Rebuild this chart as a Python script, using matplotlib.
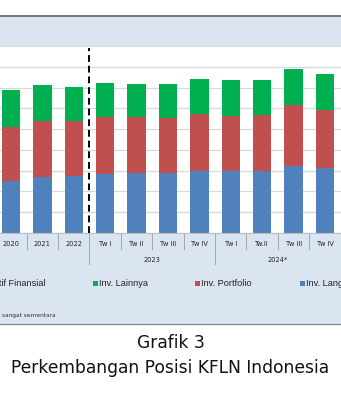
import matplotlib
matplotlib.use("Agg")
import matplotlib.pyplot as plt
from matplotlib.patches import Rectangle
import numpy as np

periods = ["2020", "2021", "2022", "Tw I", "Tw II", "Tw III", "Tw IV",
           "Tw I", "Tw.II", "Tw III", "Tw IV"]
year_groups = [("2023", 3, 6), ("2024*", 7, 10)]
inv_langsung = [251, 271, 274, 282, 288, 288, 298, 296, 300, 322, 315]
inv_portfolio = [259, 267, 263, 274, 270, 265, 276, 269, 269, 293, 278]
inv_lainnya = [176, 172, 165, 167, 161, 165, 169, 171, 168, 173, 174]

BLUE = "#4f81bd"
RED = "#c0504d"
GREEN = "#00b050"
BAND = "#dbe5f1"

W, H = 341, 400


def fx(px):
    return px / W


def fy(py):
    return 1 - py / H


fig = plt.figure(figsize=(W / 100, H / 100), dpi=100)
fig.patch.set_facecolor("white")

# light blue chart area with its border lines
fig.add_artist(Rectangle((0, fy(324)), 1, fy(15) - fy(324), transform=fig.transFigure,
                         facecolor=BAND, edgecolor="none", zorder=-2))
fig.add_artist(plt.Line2D([0, 1], [fy(15.5), fy(15.5)], transform=fig.transFigure,
                          color="#6e6e6e", lw=1.3, zorder=-1))
fig.add_artist(plt.Line2D([0, 1], [fy(323.5), fy(323.5)], transform=fig.transFigure,
                          color="#8c8c8c", lw=1.0, zorder=-1))

plot_h = 233 - 46
ax = fig.add_axes([0, fy(233), 1, plot_h / H])
ax.set_facecolor("white")

x = np.arange(len(periods))
lang = np.array(inv_langsung)
port = np.array(inv_portfolio)
lain = np.array(inv_lainnya)
bw = 0.59
ax.bar(x, lang, bw, color=BLUE, zorder=2)
ax.bar(x, port, bw, bottom=lang, color=RED, zorder=2)
ax.bar(x, lain, bw, bottom=lang + port, color=GREEN, zorder=2)

ax.set_xlim(-0.35, 10.51)
ax.set_ylim(0, 900)
ax.set_yticks(range(0, 901, 100))
ax.yaxis.grid(True, color="#d9d9d9", lw=0.9)
ax.set_axisbelow(True)
ax.tick_params(left=False, labelleft=False, bottom=False, labelbottom=False)
for s in ["left", "right", "top"]:
    ax.spines[s].set_visible(False)
ax.spines["bottom"].set_color("#bfbfbf")
ax.spines["bottom"].set_linewidth(0.8)

# dashed separator between annual and quarterly data
ax.axvline(2.5, ymin=0, ymax=0.99, color="black", lw=1.4, ls=(0, (3.5, 2)), zorder=3)

# category axis: labels and separators below the plot
tr = ax.get_xaxis_transform()
px = 1 / plot_h
for i, lab in enumerate(periods):
    ax.text(i, -11 * px, lab, transform=tr, ha="center", va="center",
            fontsize=4.8, family="DejaVu Sans", color="#222222")
long_seps = {2.5, 6.5, 10.5}
for b in np.arange(-0.5, len(periods)) + 0.0:
    depth = 31 if b in long_seps else 16
    ax.plot([b, b], [0, -depth * px], transform=tr, clip_on=False,
            color="#a6a6a6", lw=0.7)
for name, i0, i1 in year_groups:
    ax.text((i0 + i1) / 2, -27 * px, name, transform=tr, ha="center", va="center",
            fontsize=4.8, family="DejaVu Sans", color="#222222")

# legend row
legend_items = [("Inv. Lainnya", GREEN, 95), ("Inv. Portfolio", RED, 197),
                ("Inv. Langsung", BLUE, 302)]
ly = 283
fig.text(fx(46), fy(ly), "Derivatif Finansial", ha="right", va="center",
         fontsize=6.6, family="Liberation Sans", color="#222222")
for name, col, mx in legend_items:
    fig.add_artist(Rectangle((fx(mx - 2.5), fy(ly + 2.5)), fx(5), 5 / H,
                             transform=fig.transFigure, facecolor=col, edgecolor="none"))
    fig.text(fx(mx + 4), fy(ly), name, ha="left", va="center",
             fontsize=6.6, family="Liberation Sans", color="#222222")

fig.text(fx(56), fy(316), "*Data sangat sementara", ha="right", va="center",
         fontsize=4.2, family="DejaVu Sans", color="#333333")

# caption
fig.text(0.5, fy(343), "Grafik 3", ha="center", va="center",
         fontsize=12.3, family="DejaVu Sans", color="#111111")
fig.text(0.5, fy(368), "Perkembangan Posisi KFLN Indonesia", ha="center", va="center",
         fontsize=12.3, family="DejaVu Sans", color="#111111")

fig.savefig("out.png", dpi=100)
